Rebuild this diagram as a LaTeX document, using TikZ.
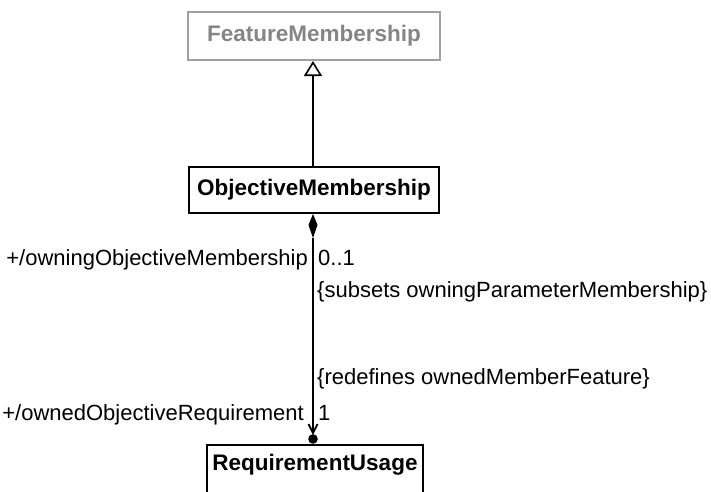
\documentclass[tikz,border=0pt]{standalone}
\usepackage{fontspec}
\setmainfont{Liberation Sans}
\usetikzlibrary{arrows.meta,calc}
\definecolor{gborder}{HTML}{A0A0A0}
\definecolor{gtext}{HTML}{858585}
\begin{document}
\begin{tikzpicture}[x=1pt,y=-1pt,
  cls/.style={draw,line width=2pt,minimum height=46pt,inner sep=0pt,font=\fontsize{22.5}{26}\selectfont\bfseries},
  lbl/.style={inner sep=0pt,font=\fontsize{22}{26}\selectfont},
  conn/.style={line width=2pt}]
\useasboundingbox (0,0) rectangle (711,491);
\clip (0,0) rectangle (711,491);
\node[cls,draw=gborder,text=gtext,minimum width=252pt,minimum height=48pt] (fm) at (314,36) {FeatureMembership};
\node[cls,minimum width=250pt] (om) at (314,190) {ObjectiveMembership};
\node[cls,minimum width=216pt,minimum height=60pt] (ru) at (315,475) {};
\node[lbl,font=\fontsize{22.5}{26}\selectfont\bfseries] (rut) at (315,465) {RequirementUsage};
% generalization
\draw[conn,-{Triangle[open,length=15pt,width=18pt,line width=1.6pt]}] (om.north -| 313,0) -- (fm.south -| 313,0);
% composition
\coordinate (dtop) at (om.south -| 313,0);
\coordinate (dbot) at ($(dtop)+(0,24)$);
\coordinate (ballc) at ($(ru.north -| 313,0)+(0,-5)$);
\coordinate (vtip) at ($(ru.north -| 313,0)+(0,-11)$);
\fill (dtop) -- ($(dtop)+(4.5,11)$) -- (dbot) -- ($(dtop)+(-4.5,11)$) -- cycle;
\draw[conn] (dbot) -- (vtip);
\draw[line width=1.8pt] ($(vtip)+(-4.5,-9)$) -- (vtip) -- ($(vtip)+(4.5,-9)$);
\fill (ballc) circle (4.8);
% labels
\node[lbl,anchor=base east] (l1) at (308,265) {+/owningObjectiveMembership};
\node[lbl,anchor=base west] (l2) at (318,265) {0..1};
\node[lbl,anchor=base west] (l3) at (317,297) {\{subsets owningParameterMembership\}};
\node[lbl,anchor=base west] (l4) at (317,384) {\{redefines ownedMemberFeature\}};
\node[lbl,anchor=base east] (l5) at (304,420) {+/ownedObjectiveRequirement};
\node[lbl,anchor=base west] (l6) at (318,420) {1};
\end{tikzpicture}
\end{document}
